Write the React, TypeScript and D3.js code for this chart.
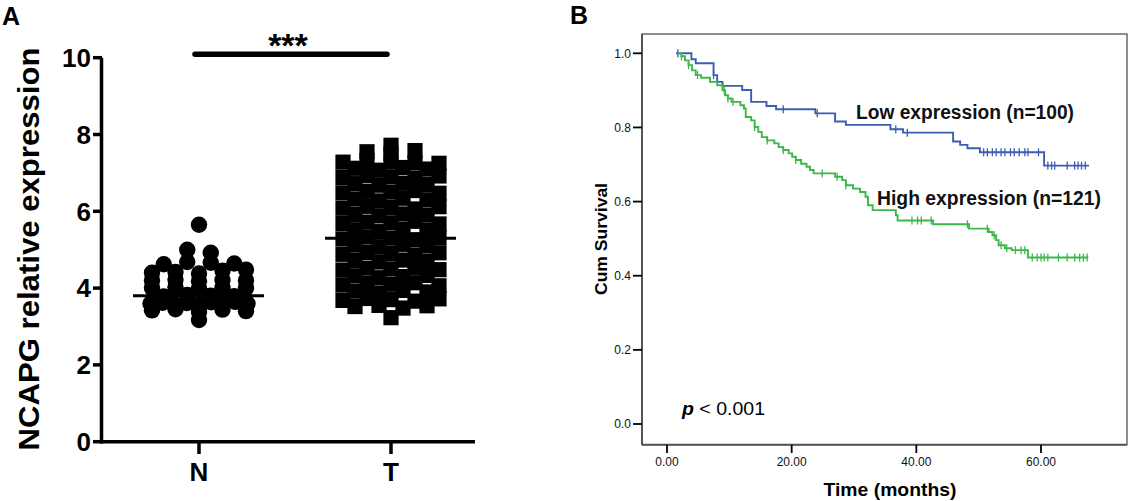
import React, { useRef, useEffect } from 'react'
import * as d3 from 'd3'

// Panel A: NCAPG relative expression, normal (N) vs tumour (T)
const groups = ['N', 'T']
const normalValues = [
  3.17,
  3.42, 3.45, 3.38, 3.44, 3.4,
  3.6, 3.62, 3.58, 3.61, 3.57, 3.63, 3.59, 3.64, 3.6,
  3.78, 3.82, 3.8, 3.79,
  4.0, 4.02, 3.98, 4.01, 4.0,
  4.2, 4.22, 4.18, 4.21, 4.2,
  4.4, 4.42, 4.38, 4.45, 4.48,
  4.62, 4.68, 4.66, 4.64,
  5.0, 4.92,
  5.65
]
const tumourValues = [
  3.23,
  3.52, 3.55, 3.48, 3.54,
  3.68, 3.73, 3.7, 3.66, 3.72,
  3.92, 3.87, 3.94, 3.9,
  4.08, 4.12, 4.1, 4.14, 4.06,
  4.32, 4.27, 4.3, 4.33,
  4.47, 4.52, 4.5, 4.54, 4.48,
  4.72, 4.68, 4.73, 4.7,
  4.88, 4.93, 4.9, 4.86, 4.92,
  5.12, 5.07, 5.14, 5.1,
  5.28, 5.33, 5.3, 5.26, 5.32,
  5.52, 5.47, 5.53, 5.5,
  5.68, 5.72, 5.7, 5.74, 5.67,
  5.92, 5.88, 5.93, 5.9,
  6.08, 6.13, 6.1, 6.06, 6.12,
  6.32, 6.27, 6.34, 6.3,
  6.48, 6.52, 6.5, 6.54, 6.47,
  6.72, 6.68, 6.73, 6.7,
  6.88, 6.93, 6.9, 6.86, 6.92,
  7.12, 7.07, 7.14, 7.1,
  7.28, 7.32, 7.3, 7.26, 7.25,
  7.55, 7.5, 7.58,
  7.72
]
const groupMeans = [3.8, 5.3]
const yTicksA = [0, 2, 4, 6, 8, 10]

// Panel B: Kaplan-Meier, low vs high NCAPG expression
const lowTimes = [1.46, 3.92, 4.61, 7.47, 8.05, 8.91, 12.06, 13.5, 15.96, 17.5, 23.8, 26.97, 28.7, 35.85, 37.86, 45.9, 47.03, 48.2, 50.2, 60.5]
const lowSurv = [1.0, 0.984, 0.973, 0.941, 0.923, 0.912, 0.901, 0.869, 0.858, 0.849, 0.838, 0.816, 0.807, 0.795, 0.786, 0.762, 0.753, 0.744, 0.733, 0.697]
const lowEnd = 67.7
const lowCensored = [1.75, 7.47, 18.65, 24.1, 36.7, 38.55, 50.8, 51.4, 52.2, 52.8, 53.6, 54.2, 55.1, 55.7, 56.5, 57.4, 57.9, 59.6, 61.1, 61.7, 62.2, 64.2, 65.4, 65.95, 66.5, 67.1]

const highTimes = [1.75, 2.31, 2.89, 3.46, 4.03, 4.61, 5.47, 6.9, 8.05, 8.91, 9.31, 9.77, 10.34, 11.78, 12.35, 12.63, 13.5, 14.06, 14.64, 15.2, 16.07, 17.22, 17.91, 18.65, 19.52, 20.08, 20.66, 21.52, 22.38, 22.95, 23.53, 26.97, 28.1, 28.7, 29.84, 30.98, 31.84, 32.24, 32.99, 36.71, 37.0, 42.7, 48.46, 51.6, 52.2, 52.8, 53.2, 54.2, 55.3, 57.9]
const highSurv = [1.0, 0.992, 0.981, 0.968, 0.954, 0.941, 0.934, 0.923, 0.914, 0.9, 0.887, 0.878, 0.869, 0.86, 0.851, 0.828, 0.819, 0.801, 0.788, 0.774, 0.765, 0.757, 0.747, 0.739, 0.73, 0.721, 0.712, 0.702, 0.694, 0.685, 0.676, 0.667, 0.658, 0.644, 0.635, 0.626, 0.613, 0.59, 0.577, 0.563, 0.549, 0.539, 0.527, 0.518, 0.509, 0.496, 0.482, 0.474, 0.469, 0.449]
const highEnd = 67.6
const highCensored = [2.31, 3.46, 4.9, 9.2, 9.77, 10.6, 14.06, 16.07, 18.65, 20.66, 24.9, 27.3, 28.7, 39.3, 40.2, 40.8, 42.4, 48.2, 51.4, 52.5, 53.6, 54.5, 55.9, 56.8, 57.4, 58.6, 59.4, 60.0, 60.5, 61.1, 62.8, 64.2, 65.4, 66.2, 66.8, 67.4]

const xTicksB = [0, 20, 40, 60]
const yTicksB = [0, 0.2, 0.4, 0.6, 0.8, 1.0]

const ARIAL = 'Liberation Sans, Arial, Helvetica, sans-serif'
const BLUE = '#3d5db3'
const GREEN = '#3cb84a'

// spread points of one group sideways, row by row, like a column scatter
function spread(values: number[], base: number, bin: number, gap: number, maxSpan: number) {
  const rows = d3.group(values, v => Math.round((v - base) / bin))
  const out: { v: number, dx: number }[] = []
  rows.forEach(row => {
    const step = row.length > 1 ? Math.min(gap, maxSpan / (row.length - 1)) : 0
    row.forEach((v, k) => out.push({ v, dx: (k - (row.length - 1) / 2) * step }))
  })
  return out
}

function App() {
  const ref = useRef<SVGSVGElement>(null)

  useEffect(() => {
    const svg = d3.select(ref.current)
    svg.selectAll('*').remove()

    // ---------- Panel A ----------
    const a = svg.append('g')
    const yA = d3.scaleLinear().domain([0, 10]).range([441.7, 57.7])
    const xA = d3.scalePoint().domain(groups).range([199, 391])

    a.append('text').attr('x', 2).attr('y', 25).text('A')
      .style('font', `bold 25px ${ARIAL}`)

    a.append('line').attr('x1', 101.5).attr('x2', 101.5).attr('y1', yA(10)).attr('y2', yA(0) + 1.7)
      .attr('stroke', '#000').attr('stroke-width', 3.5)
    a.append('line').attr('x1', 100).attr('x2', 475).attr('y1', yA(0)).attr('y2', yA(0))
      .attr('stroke', '#000').attr('stroke-width', 3.5)

    yTicksA.forEach(t => {
      a.append('line').attr('x1', 93).attr('x2', 102).attr('y1', yA(t)).attr('y2', yA(t))
        .attr('stroke', '#000').attr('stroke-width', 3.5)
      a.append('text').attr('x', 91).attr('y', yA(t)).attr('dy', '0.36em')
        .attr('text-anchor', 'end').text(t)
        .style('font', `bold 26px ${ARIAL}`)
    })
    groups.forEach(g => {
      a.append('line').attr('x1', xA(g)).attr('x2', xA(g)).attr('y1', yA(0)).attr('y2', 454)
        .attr('stroke', '#000').attr('stroke-width', 3.5)
      a.append('text').attr('x', xA(g)).attr('y', 481).attr('text-anchor', 'middle').text(g)
        .style('font', `bold 26px ${ARIAL}`)
    })

    a.append('text')
      .attr('transform', `translate(39,249) rotate(-90)`)
      .attr('text-anchor', 'middle')
      .attr('textLength', 403).attr('lengthAdjust', 'spacingAndGlyphs')
      .text('NCAPG relative expression')
      .style('font', `bold 30px ${ARIAL}`)

    // normal: circles
    a.append('g').selectAll('circle')
      .data(spread(normalValues, 3.2, 0.2, 23.5, 97))
      .join('circle')
      .attr('cx', d => (xA('N') as number) + d.dx)
      .attr('cy', d => yA(d.v))
      .attr('r', 8.2)
      .attr('fill', '#000')

    // tumour: squares
    a.append('g').selectAll('rect')
      .data(spread(tumourValues, 3.3, 0.2, 24, 100))
      .join('rect')
      .attr('x', d => (xA('T') as number) + d.dx - 7.6)
      .attr('y', d => yA(d.v) - 7.6)
      .attr('width', 15.2).attr('height', 15.2)
      .attr('fill', '#000')

    // mean lines
    groups.forEach((g, i) => {
      a.append('line')
        .attr('x1', (xA(g) as number) - 66).attr('x2', (xA(g) as number) + 65)
        .attr('y1', yA(groupMeans[i])).attr('y2', yA(groupMeans[i]))
        .attr('stroke', '#000').attr('stroke-width', 3)
    })

    // significance bar
    a.append('line').attr('x1', 195).attr('x2', 387).attr('y1', 54.3).attr('y2', 54.3)
      .attr('stroke', '#000').attr('stroke-width', 5.5).attr('stroke-linecap', 'round')
    a.append('text').attr('x', 288).attr('y', 57).attr('text-anchor', 'middle').text('***')
      .style('font', `bold 34px ${ARIAL}`)

    // ---------- Panel B ----------
    const b = svg.append('g')
    const xB = d3.scaleLinear().domain([0, 60]).range([667, 1041])
    const yB = d3.scaleLinear().domain([0, 1]).range([424, 53.3])
    const left = 642, top = 34, right = 1127, bottom = 444.7

    b.append('text').attr('x', 570).attr('y', 24).text('B')
      .style('font', `bold 25px ${ARIAL}`)

    b.append('rect').attr('x', left).attr('y', top).attr('width', right - left).attr('height', bottom - top)
      .attr('fill', 'none').attr('stroke', '#444').attr('stroke-width', 1.2)
    b.append('line').attr('x1', left).attr('x2', left).attr('y1', top).attr('y2', bottom)
      .attr('stroke', '#555').attr('stroke-width', 2)
    b.append('line').attr('x1', left).attr('x2', right).attr('y1', bottom).attr('y2', bottom)
      .attr('stroke', '#555').attr('stroke-width', 2)

    yTicksB.forEach(t => {
      b.append('line').attr('x1', 633).attr('x2', left).attr('y1', yB(t)).attr('y2', yB(t))
        .attr('stroke', '#000').attr('stroke-width', 1.8)
      b.append('text').attr('x', 631).attr('y', yB(t)).attr('dy', '0.36em')
        .attr('text-anchor', 'end').text(t.toFixed(1))
        .style('font', `12px ${ARIAL}`).attr('fill', '#111')
    })
    xTicksB.forEach(t => {
      b.append('line').attr('x1', xB(t)).attr('x2', xB(t)).attr('y1', bottom).attr('y2', 453)
        .attr('stroke', '#000').attr('stroke-width', 1.8)
      b.append('text').attr('x', xB(t)).attr('y', 466).attr('text-anchor', 'middle').text(t.toFixed(2))
        .style('font', `12px ${ARIAL}`).attr('fill', '#111')
    })

    b.append('text')
      .attr('transform', `translate(607,239) rotate(-90)`)
      .attr('text-anchor', 'middle')
      .attr('textLength', 112).attr('lengthAdjust', 'spacingAndGlyphs')
      .text('Cum Survival')
      .style('font', `bold 17px ${ARIAL}`)
    b.append('text')
      .attr('x', 890).attr('y', 496).attr('text-anchor', 'middle')
      .attr('textLength', 133).attr('lengthAdjust', 'spacingAndGlyphs')
      .text('Time (months)')
      .style('font', `bold 19px ${ARIAL}`)

    const line = d3.line<[number, number]>()
      .x(d => xB(d[0])).y(d => yB(d[1]))
      .curve(d3.curveStepAfter)

    const curves = [
      { times: lowTimes, surv: lowSurv, end: lowEnd, cens: lowCensored, color: BLUE },
      { times: highTimes, surv: highSurv, end: highEnd, cens: highCensored, color: GREEN }
    ]
    curves.forEach(c => {
      const pts: [number, number][] = c.times.map((t, i) => [t, c.surv[i]])
      pts.push([c.end, c.surv[c.surv.length - 1]])
      b.append('path').attr('d', line(pts)).attr('fill', 'none')
        .attr('stroke', c.color).attr('stroke-width', 1.9)
      c.cens.forEach(t => {
        const i = Math.max(0, d3.bisectRight(c.times, t) - 1)
        const s = c.surv[i]
        b.append('line').attr('x1', xB(t)).attr('x2', xB(t))
          .attr('y1', yB(s) - 4).attr('y2', yB(s) + 4)
          .attr('stroke', c.color).attr('stroke-width', 1.3)
      })
    })

    b.append('text').attr('x', 856).attr('y', 119)
      .attr('textLength', 218).attr('lengthAdjust', 'spacingAndGlyphs')
      .text('Low expression (n=100)')
      .style('font', `bold 20px ${ARIAL}`).attr('fill', '#111')
    b.append('text').attr('x', 877).attr('y', 205)
      .attr('textLength', 224).attr('lengthAdjust', 'spacingAndGlyphs')
      .text('High expression (n=121)')
      .style('font', `bold 20px ${ARIAL}`).attr('fill', '#111')

    const p = b.append('text').attr('x', 682).attr('y', 415)
      .attr('textLength', 83).attr('lengthAdjust', 'spacingAndGlyphs')
      .style('font', `18px ${ARIAL}`)
    p.append('tspan').text('p').style('font-style', 'italic').style('font-weight', 'bold')
    p.append('tspan').text(' < 0.001')
  }, [])

  return (
    <svg ref={ref} width={1129} height={501}
      style={{ position: 'absolute', left: 0, top: 0, background: '#fff' }} />
  )
}

export default App
